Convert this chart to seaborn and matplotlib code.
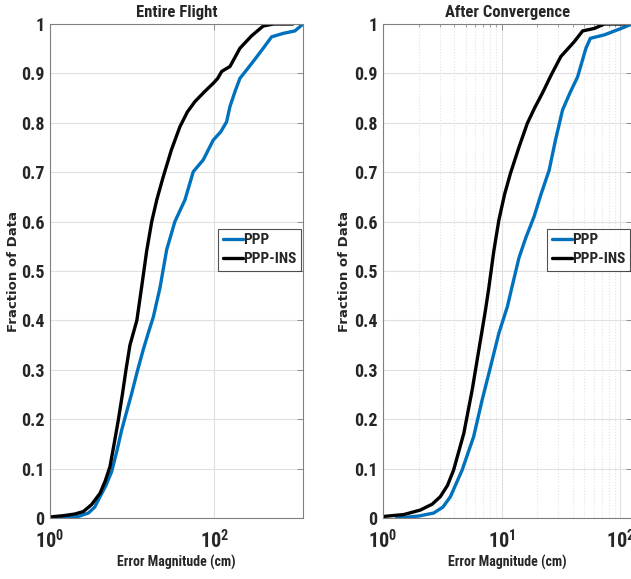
import numpy as np
import pandas as pd
import matplotlib
matplotlib.use("Agg")
import matplotlib.pyplot as plt
import matplotlib.ticker as mticker
from matplotlib import font_manager
import seaborn as sns

# Valores (CDF do erro, em cm)
entire_ppp_x = [1.3, 1.6, 2.2, 2.93, 3.5, 4.06, 4.8, 5.63, 6.5, 7.45, 8.6, 9.86, 11.6, 13.6,
                15.8, 18.1, 21.8, 26.3, 33.1, 43.9, 55.4, 73.3, 97, 120, 141, 155, 180, 205,
                297, 394, 498, 689, 956, 1200]
entire_ppp_y = [0.0, 0.0, 0.003, 0.01, 0.022, 0.043, 0.066, 0.094, 0.135, 0.178, 0.216, 0.252,
                0.298, 0.34, 0.376, 0.407, 0.466, 0.543, 0.60, 0.644, 0.701, 0.725, 0.765,
                0.782, 0.802, 0.833, 0.865, 0.89, 0.924, 0.951, 0.974, 0.981, 0.986, 1.0]
entire_ins_x = [1.0, 1.5, 2.0, 2.54, 3.2, 4.06, 4.7, 5.37, 6.0, 6.78, 7.6, 8.41, 9.4, 11.4,
                13.0, 15.0, 17.3, 20.0, 23.9, 30.0, 38.1, 47.0, 58.1, 75.0, 97, 110, 123, 155,
                205, 284, 394, 525, 900]
entire_ins_y = [0.002, 0.005, 0.008, 0.013, 0.027, 0.05, 0.075, 0.104, 0.148, 0.198, 0.25,
                0.30, 0.35, 0.40, 0.466, 0.54, 0.60, 0.645, 0.691, 0.745, 0.792, 0.822, 0.843,
                0.862, 0.88, 0.89, 0.904, 0.914, 0.951, 0.976, 0.996, 1.0, 1.0]

conv_ppp_x = [1.3, 1.49, 2.0, 2.67, 3.2, 3.7, 4.65, 5.82, 6.86, 8.07, 9.49, 11.2, 12.2, 14.0,
              16.0, 18.8, 21.5, 25.2, 28.5, 32.7, 38.0, 43.8, 51.5, 56.1, 73.6, 102, 126]
conv_ppp_y = [0.0, 0.001, 0.004, 0.01, 0.022, 0.043, 0.097, 0.165, 0.239, 0.306, 0.374, 0.428,
              0.466, 0.526, 0.567, 0.61, 0.655, 0.704, 0.765, 0.826, 0.862, 0.893, 0.951,
              0.971, 0.978, 0.991, 1.0]
conv_ins_x = [1.0, 1.5, 2.06, 2.6, 3.04, 3.5, 3.94, 4.8, 5.65, 6.43, 7.32, 7.81, 8.6, 9.49,
              10.6, 11.9, 14.0, 16.5, 19.0, 22.1, 26.0, 31.6, 41, 48.3, 60.6, 73.6, 109]
conv_ins_y = [0.003, 0.007, 0.016, 0.028, 0.043, 0.066, 0.097, 0.171, 0.259, 0.34, 0.421, 0.466,
              0.54, 0.603, 0.655, 0.698, 0.75, 0.799, 0.83, 0.86, 0.895, 0.934, 0.964, 0.986,
              0.991, 1.0, 1.0]

series_labels = ["PPP", "PPP-INS"]
series_colors = ["#0072BD", "#000000"]
titles = ["Entire Flight", "After Convergence"]


# Procura uma fonte estreita (condensada) que tenha versão em negrito
def peso(w):
    if isinstance(w, str):
        return font_manager.weight_dict.get(w, 400)
    return w


cands = set()
for f in font_manager.fontManager.ttflist:
    estreita = (f.stretch in ('condensed', 'semi-condensed', 'extra-condensed')
                or 'Narrow' in f.name or 'Condensed' in f.name)
    if estreita and peso(f.weight) >= 600:
        cands.add(f.name)

fonte = 'Roboto'
for nome in ['Liberation Sans Narrow', 'Roboto Condensed', 'Open Sans Condensed',
             'Noto Sans Condensed', 'DejaVu Sans Condensed', 'DejaVu Sans']:
    if nome in cands:
        fonte = nome
        break
else:
    if cands:
        fonte = sorted(cands)[0]
escala = 1.0 if fonte != 'Roboto' else 0.82

sns.set_theme(style="white")
plt.rcParams.update({
    'font.family': [fonte, 'DejaVu Sans'],
    'font.weight': 'bold',
    'font.stretch': 'condensed',
    'mathtext.fontset': 'custom',
    'mathtext.rm': f'{fonte}:bold',
    'mathtext.it': f'{fonte}:bold',
    'mathtext.bf': f'{fonte}:bold',
    'text.color': '#262626',
    'xtick.color': '#262626',
    'ytick.color': '#262626',
})

fig = plt.figure(figsize=(6.31, 5.79), dpi=100)
ax1 = fig.add_axes([50 / 631, 61 / 579, 253 / 631, 494 / 579])
ax2 = fig.add_axes([383 / 631, 61 / 579, 249 / 631, 494 / 579])

painel = [
    (ax1, (entire_ppp_x, entire_ppp_y), (entire_ins_x, entire_ins_y), (1, 1200)),
    (ax2, (conv_ppp_x, conv_ppp_y), (conv_ins_x, conv_ins_y), (1, 126)),
]


def rotulo_y(v, pos):
    if abs(v) < 1e-9 or abs(v - 1) < 1e-9:
        return str(int(round(v)))
    return f"{v:.1f}"


for i, (ax, ppp, ins, xlim) in enumerate(painel):
    for (xs, ys), lab, cor in zip([ppp, ins], series_labels, series_colors):
        df = pd.DataFrame({'erro': xs, 'fracao': ys})
        sns.lineplot(data=df, x='erro', y='fracao', ax=ax, color=cor, linewidth=2.4,
                     label=lab, estimator=None, sort=False)
    ax.set_xscale('log')
    ax.set_xlim(*xlim)
    ax.set_ylim(0, 1)
    ax.yaxis.set_major_locator(mticker.MultipleLocator(0.1))
    ax.yaxis.set_major_formatter(mticker.FuncFormatter(rotulo_y))
    if i == 0:
        ax.xaxis.set_major_locator(mticker.FixedLocator([1, 100]))
        ax.xaxis.set_minor_locator(mticker.NullLocator())
    else:
        ax.xaxis.set_major_locator(mticker.LogLocator(base=10))
        ax.xaxis.set_minor_locator(mticker.LogLocator(base=10, subs=np.arange(2, 10)))
        ax.grid(True, which='minor', axis='x', color='#e3e3e3', linestyle=':', linewidth=0.8)
    ax.xaxis.set_major_formatter(mticker.LogFormatterMathtext())
    ax.grid(True, which='major', color='#e0e0e0', linewidth=0.8)
    ax.tick_params(which='both', direction='in', top=True, right=True, color='#808080')
    ax.tick_params(which='major', length=4, width=0.6)
    ax.tick_params(which='minor', length=2.5, width=0.5)
    ax.tick_params(axis='y', labelsize=13 * escala + 0.8 * (escala < 1), pad=4)
    ax.tick_params(axis='x', labelsize=14.5 * escala + 0.8 * (escala < 1), pad=8)
    for s in ax.spines.values():
        s.set_color('#808080')
        s.set_linewidth(0.8)
    ax.set_title(titles[i], fontsize=12 * escala, fontweight='bold', pad=5)
    ax.set_xlabel("Error Magnitude (cm)", fontsize=10 * escala, fontweight='bold')
    ax.set_ylabel("Fraction of Data", fontsize=9.5, fontweight='bold',
                  family='DejaVu Sans', fontstretch='normal')
    ax.xaxis.set_label_coords(0.5, -0.075)
    ax.yaxis.set_label_coords(-0.118 if i == 0 else -0.13, 0.5)
    leg = ax.legend(loc='center right', bbox_to_anchor=(1.0, 0.543), fontsize=11 * escala,
                    frameon=True, fancybox=False, handlelength=1.3, handletextpad=0.05,
                    borderpad=0.3, labelspacing=0.3, borderaxespad=0.1)
    leg.get_frame().set_edgecolor('#262626')
    leg.get_frame().set_linewidth(0.8)
    for t in leg.get_texts():
        t.set_fontweight('bold')

fig.savefig("out.png", dpi=100)
